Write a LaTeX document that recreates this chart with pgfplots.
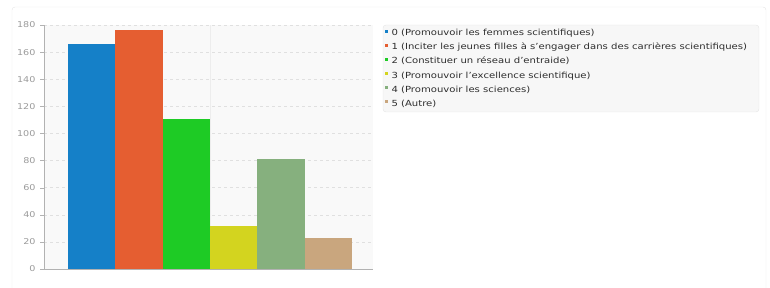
\documentclass[border=0pt]{standalone}
\usepackage{pgfplots}
\pgfplotsset{compat=1.18}
\usepackage{fontspec}
\setmainfont[FakeStretch=1.2]{DejaVu Sans}
\definecolor{c0}{HTML}{1580C8}
\definecolor{c1}{HTML}{E55E31}
\definecolor{c2}{HTML}{1ECB25}
\definecolor{c3}{HTML}{D3D41F}
\definecolor{c4}{HTML}{86B07E}
\definecolor{c5}{HTML}{C9A67E}
\definecolor{tickgray}{HTML}{9A9A9A}
\definecolor{legtext}{HTML}{2E2E2E}
\begin{document}
\begin{tikzpicture}[x=1pt,y=1pt]
\path[use as bounding box] (0,0) rectangle (770,288);
\draw[black!10, rounded corners=3pt] (12,-5) -- (12,281) -- (766,281) -- (766,-5);
\fill[black!3, draw=black!10, rounded corners=3pt] (383,263) rectangle (759,176);
\begin{axis}[
  at={(44pt,19pt)}, anchor=south west,
  scale only axis, width=329pt, height=244pt,
  xmin=-1, xmax=5.94, ymin=0, ymax=180,
  ytick={0,20,...,180},
  xtick={2.5}, xticklabels={},
  axis x line*=bottom, axis y line*=left,
  axis line style={draw=black!30},
  x axis line style={-}, y axis line style={-},
  axis background/.style={fill=black!2.5},
  ymajorgrids, xmajorgrids,
  y grid style={dashed, draw=black!12},
  x grid style={draw=black!7},
  xtick style={draw=none},
  ytick style={draw=black!30},
  tick align=outside, major tick length=4pt,
  /pgf/number format/assume math mode=true,
  yticklabel style={font=\fontsize{8}{10}\selectfont, text=tickgray, xshift=-1pt},
  legend style={at={(1.0365,0.981)}, anchor=north west, draw=none, fill=none,
    inner sep=0pt, row sep=6.5pt, column sep=3.5pt,
    font=\fontsize{8.4}{10}\selectfont, text=legtext,
    nodes={inner sep=0pt, text height=6pt, text depth=1.5pt}},
  legend cell align=left,
  legend image code/.code={\draw[#1,draw=none] (0pt,1pt) rectangle (2.8pt,3.8pt);},
]
\addplot[ybar, bar width=1, bar shift=0pt, fill=c0, draw=none] coordinates {(0,166)};
\addplot[ybar, bar width=1, bar shift=0pt, fill=c1, draw=none] coordinates {(1,176)};
\addplot[ybar, bar width=1, bar shift=0pt, fill=c2, draw=none] coordinates {(2,111)};
\addplot[ybar, bar width=1, bar shift=0pt, fill=c3, draw=none] coordinates {(3,32)};
\addplot[ybar, bar width=1, bar shift=0pt, fill=c4, draw=none] coordinates {(4,81)};
\addplot[ybar, bar width=1, bar shift=0pt, fill=c5, draw=none] coordinates {(5,23)};
\legend{0 (Promouvoir les femmes scientifiques),
1 (Inciter les jeunes filles à s'engager dans des carrières scientifiques),
2 (Constituer un réseau d'entraide),
3 (Promouvoir l'excellence scientifique),
4 (Promouvoir les sciences),
5 (Autre)}
\end{axis}
\end{tikzpicture}
\end{document}
